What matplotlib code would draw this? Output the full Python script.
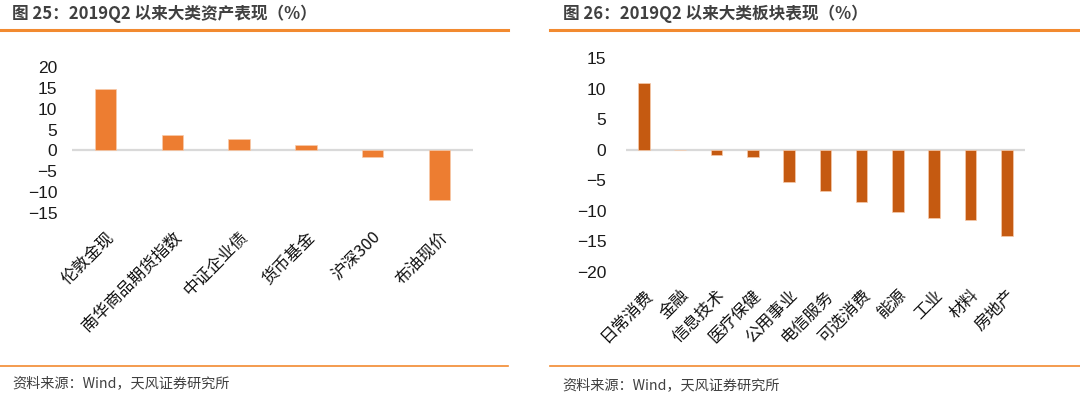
import matplotlib
matplotlib.use("Agg")
import matplotlib.pyplot as plt
from matplotlib.lines import Line2D

plt.rcParams['font.family'] = ['Noto Sans CJK SC', 'DejaVu Sans']

# ---------- 数据 ----------
asset_names = ["伦敦金现", "南华商品期货指数", "中证企业债", "货币基金", "沪深300", "布油现价"]
asset_values = [14.6, 3.7, 2.7, 1.2, -1.6, -11.9]

sector_names = ["日常消费", "金融", "信息技术", "医疗保健", "公用事业", "电信服务",
                "可选消费", "能源", "工业", "材料", "房地产"]
sector_values = [11.0, 0.0, -0.9, -1.2, -5.3, -6.7, -8.5, -10.2, -11.2, -11.6, -14.2]

left_ticks = [20, 15, 10, 5, 0, -5, -10, -15]
right_ticks = [15, 10, 5, 0, -5, -10, -15, -20]

ORANGE_LINE = "#F28A30"
TEXT_GRAY = "#404040"
TICK_FONT = ['Liberation Sans', 'DejaVu Sans']


def bar_panel(ax, names, values, color, ticks, ylim, ypad):
    x = range(len(names))
    ax.bar(x, values, width=0.32, color=color, edgecolor="#F7CBAC", linewidth=0.5, zorder=2)
    ax.axhline(0, color="#D9D9D9", linewidth=1.6, zorder=1)
    ax.set_xlim(-0.5, len(names) - 0.5)
    ax.set_ylim(*ylim)
    ax.set_yticks(ticks)
    for lab in ax.set_yticklabels([f"{t}".replace("-", "\u2212") for t in ticks]):
        lab.set_family(TICK_FONT)
    ax.tick_params(axis="y", length=0, pad=ypad, labelsize=12.5, labelcolor="#1a1a1a")
    ax.set_xticks(list(x))
    ax.set_xticklabels(names, rotation=45, ha="right", va="top",
                       rotation_mode="anchor", fontsize=12, color="#111111")
    ax.tick_params(axis="x", length=0, pad=11)
    for s in ax.spines.values():
        s.set_visible(False)


fig = plt.figure(figsize=(10.8, 3.96), dpi=100)

ax1 = fig.add_axes([0.0667, 0.4614, 0.3713, 0.3702])
bar_panel(ax1, asset_names, asset_values, "#ED7D31", left_ticks, (-15, 20), 10.5)

ax2 = fig.add_axes([0.5794, 0.3139, 0.3697, 0.5389])
bar_panel(ax2, sector_names, sector_values, "#C55A11", right_ticks, (-20, 15), 14)

# 标题、分隔线、来源
fig.text(0.011, 0.966, "图 25：2019Q2 以来大类资产表现（%）", fontsize=12,
         fontweight="bold", color=TEXT_GRAY, va="center")
fig.text(0.521, 0.966, "图 26：2019Q2 以来大类板块表现（%）", fontsize=12,
         fontweight="bold", color=TEXT_GRAY, va="center")

fig.add_artist(Line2D([0.0, 0.4704], [0.9242, 0.9242], color=ORANGE_LINE, linewidth=2.2))
fig.add_artist(Line2D([0.509, 1.0], [0.9242, 0.9242], color=ORANGE_LINE, linewidth=2.2))
fig.add_artist(Line2D([0.0, 0.4704], [0.0758, 0.0758], color=ORANGE_LINE, linewidth=1.2))
fig.add_artist(Line2D([0.509, 1.0], [0.0758, 0.0758], color=ORANGE_LINE, linewidth=1.2))

fig.text(0.011, 0.032, "资料来源：Wind，天风证券研究所", fontsize=10.2, color=TEXT_GRAY, va="center")
fig.text(0.521, 0.028, "资料来源：Wind，天风证券研究所", fontsize=10.2, color=TEXT_GRAY, va="center")

fig.savefig("out.png", dpi=100)
